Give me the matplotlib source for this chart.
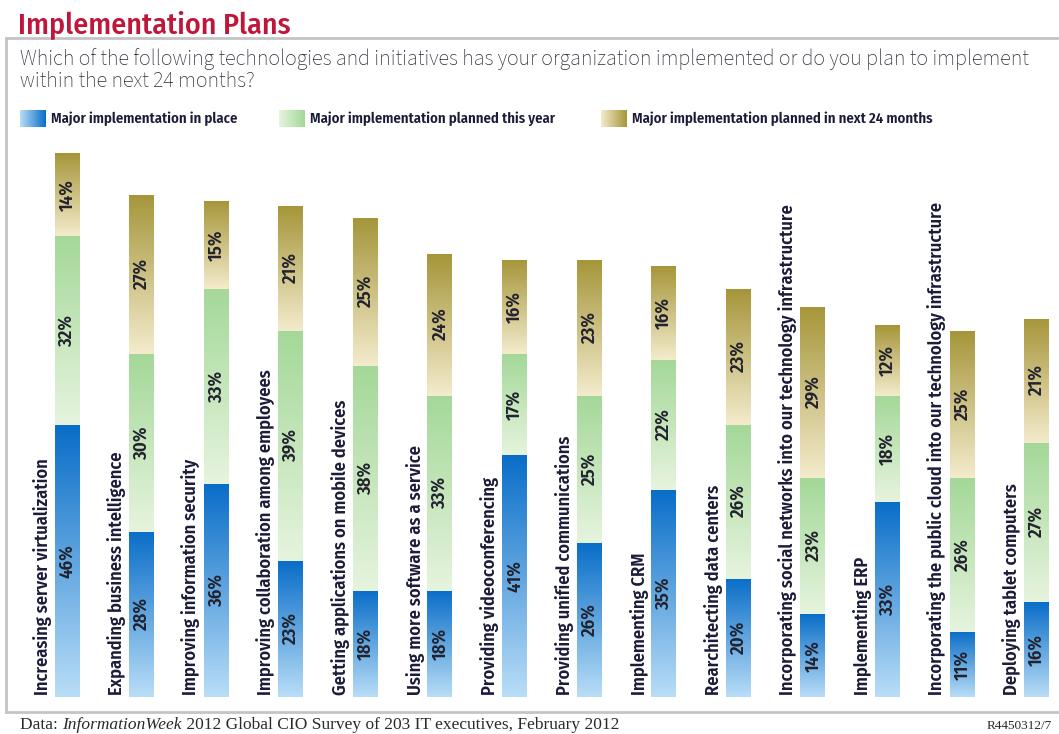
import numpy as np
import matplotlib
matplotlib.use('Agg')
import matplotlib.pyplot as plt
from matplotlib.colors import to_rgb
from matplotlib.lines import Line2D

categories = [
    'Increasing server virtualization',
    'Expanding business intelligence',
    'Improving information security',
    'Improving collaboration among employees',
    'Getting applications on mobile devices',
    'Using more software as a service',
    'Providing videoconferencing',
    'Providing unified communications',
    'Implementing CRM',
    'Rearchitecting data centers',
    'Incorporating social networks into our technology infrastructure',
    'Implementing ERP',
    'Incorporating the public cloud into our technology infrastructure',
    'Deploying tablet computers',
]
in_place = [46, 28, 36, 23, 18, 18, 41, 26, 35, 20, 14, 33, 11, 16]
this_year = [32, 30, 33, 39, 38, 33, 17, 25, 22, 26, 23, 18, 26, 27]
next_24 = [14, 27, 15, 21, 25, 24, 16, 23, 16, 23, 29, 12, 25, 21]
series_names = ['Major implementation in place',
                'Major implementation planned this year',
                'Major implementation planned in next 24 months']

# (bottom colour, top colour) for each segment gradient
grads = [('#b8ddf7', '#0a6ec8'),
         ('#e6f4de', '#a4d898'),
         ('#f3ebcc', '#a6963a')]

NARROW = ['Fira Sans Condensed', 'Barlow Condensed', 'DejaVu Sans']
BODY = ['Source Sans 3', 'Source Sans Pro', 'Open Sans', 'DejaVu Sans']
W, H = 1059, 734
fig = plt.figure(figsize=(W / 100, H / 100), dpi=100)


def px(x, y):
    return x / W, 1 - y / H


def gradient_img(c0, c1, n=64, horizontal=False):
    a, b = np.array(to_rgb(c0)), np.array(to_rgb(c1))
    t = np.linspace(0, 1, n)[:, None]
    g = a + (b - a) * t
    if horizontal:
        return g[None, :, :]
    return g[:, None, :]


# bars: baseline at y=697px, 5.91 px per percent, 74.6 px per bar
base_px, ppp, step, x0 = 697, 5.91, 74.6, 67
ax = fig.add_axes([0, (H - base_px) / H, 1, 100 * ppp / H])
ax.axis('off')

xs = np.arange(len(categories))
bw = 25 / step
bottom = np.zeros(len(categories))
for vals, (c0, c1) in zip([in_place, this_year, next_24], grads):
    vals = np.array(vals, dtype=float)
    bars = ax.bar(xs, vals, bw, bottom=bottom, color=c1, linewidth=0)
    for rect, v in zip(bars, vals):
        rx, ry, rw, rh = rect.get_x(), rect.get_y(), rect.get_width(), rect.get_height()
        im = ax.imshow(gradient_img(c0, c1), extent=(rx, rx + rw, ry, ry + rh),
                       origin='lower', aspect='auto', zorder=2, interpolation='bilinear')
        im.set_clip_path(rect)
        ax.text(rx + rw / 2, ry + rh / 2, f'{int(v)}%', rotation=90,
                ha='center', va='center', fontsize=13.5, fontweight='semibold',
                family=NARROW, color='#22222e', zorder=3)
    bottom += vals
ax.set_xlim(-x0 / step, (W - x0) / step)
ax.set_ylim(0, 100)

for x, cat in zip(xs, categories):
    ax.text(x - 0.33, 0.3, cat, rotation=90, ha='center', va='bottom',
            fontsize=13.2, fontweight='semibold', family=NARROW, color='#1c1c3a',
            zorder=3)

# title, question and legend
fig.text(*px(18, 33), 'Implementation Plans', fontsize=21.5, color='#c0163a',
         family=NARROW, fontweight='medium', va='baseline')
fig.text(*px(20, 65), 'Which of the following technologies and initiatives has your '
         'organization implemented or do you plan to implement', fontsize=15.8,
         color='#2c2c38', family=BODY, va='baseline')
fig.text(*px(20, 87), 'within the next 24 months?', fontsize=15.8,
         color='#2c2c38', family=BODY, va='baseline')

leg_x = [20, 279, 601]
for lx, name, (c0, c1) in zip(leg_x, series_names, grads):
    lax = fig.add_axes([lx / W, 1 - 127 / H, 26 / W, 17 / H])
    lax.imshow(gradient_img(c0, c1, horizontal=True), aspect='auto',
               interpolation='bilinear')
    lax.axis('off')
    fig.text(*px(lx + 31, 123), name, fontsize=10.6, fontweight='semibold',
             family=NARROW, color='#1c1c3a', va='baseline')

# frame lines
frame = dict(color='#c4c4c4', linewidth=2, transform=fig.transFigure)
fig.add_artist(Line2D([6 / W, 1], [1 - 38 / H] * 2, **frame))
fig.add_artist(Line2D([6 / W] * 2, [1 - 38 / H, 1 - 712 / H], **frame))
fig.add_artist(Line2D([6 / W, 1], [1 - 712 / H] * 2, **frame))

# source line
serif = ['Liberation Serif', 'DejaVu Serif']
fig.canvas.draw()
r = fig.canvas.get_renderer()
cx = 20
for part, style in [('Data: ', 'normal'), ('InformationWeek', 'italic'),
                    (' 2012 Global CIO Survey of 203 IT executives, February 2012', 'normal')]:
    t = fig.text(*px(cx, 729), part, fontsize=12.5, family=serif, style=style,
                 color='#2a2a2a', va='baseline')
    cx += t.get_window_extent(r).width
fig.text(*px(1052, 729), 'R4450312/7', fontsize=9.5, family=serif, color='#2a2a2a',
         ha='right', va='baseline')

fig.savefig('out.png', dpi=100)
